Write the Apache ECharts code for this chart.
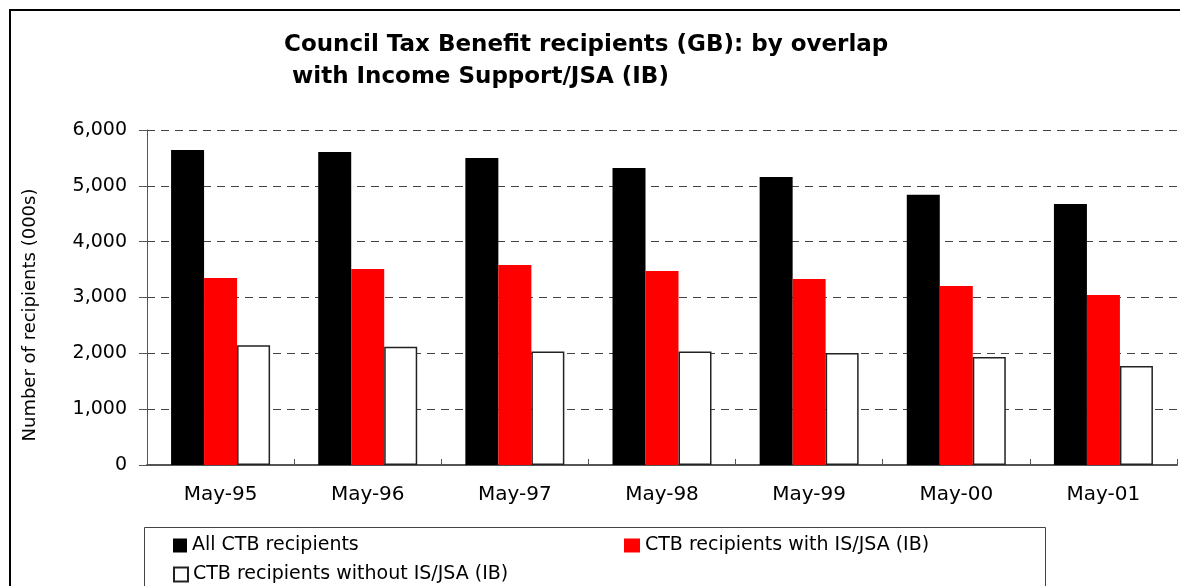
<!DOCTYPE html>
<html>
<head>
<meta charset="utf-8">
<title>Council Tax Benefit recipients</title>
<script src="https://cdn.jsdelivr.net/npm/echarts@6/dist/echarts.min.js"></script>
<style>
  html, body { margin: 0; padding: 0; background: #fff; }
  #chart { width: 1180px; height: 586px; }
</style>
</head>
<body>
<div id="chart"></div>
<script>
  // data (thousands)
  var categories = ['May-95', 'May-96', 'May-97', 'May-98', 'May-99', 'May-00', 'May-01']
  var allCtb = [5640, 5605, 5500, 5320, 5160, 4840, 4675]
  var withIs = [3350, 3510, 3580, 3475, 3330, 3205, 3045]
  var withoutIs = [2145, 2120, 2035, 2035, 2005, 1935, 1775]
  var seriesNames = ['All CTB recipients', 'CTB recipients with IS/JSA (IB)', 'CTB recipients without IS/JSA (IB)']

  var font = 'DejaVu Sans'
  var legendText = { fontFamily: font, fontSize: 19, color: '#000' }
  var chart = echarts.init(document.getElementById('chart'))

  chart.setOption({
    animation: false,
    backgroundColor: '#fff',
    title: {
      text: 'Council Tax Benefit recipients (GB): by overlap\n with Income Support/JSA (IB)',
      left: 284,
      top: 29,
      padding: 0,
      textStyle: {
        fontFamily: font,
        fontSize: 23,
        fontWeight: 'bold',
        color: '#000',
        lineHeight: 32
      }
    },
    legend: [{
      data: [seriesNames[0]],
      left: 173, top: 536, padding: 0,
      icon: 'rect', itemWidth: 14, itemHeight: 14, itemGap: 6,
      textStyle: legendText
    }, {
      data: [seriesNames[1]],
      left: 624, top: 536, padding: 0,
      icon: 'rect', itemWidth: 16, itemHeight: 14, itemGap: 6,
      textStyle: legendText
    }, {
      data: [seriesNames[2]],
      left: 173, top: 565, padding: 0,
      icon: 'rect', itemWidth: 14, itemHeight: 14, itemGap: 6,
      textStyle: legendText
    }],
    grid: {
      left: 147,
      right: 3,
      top: 130,
      bottom: 121
    },
    xAxis: {
      type: 'category',
      data: categories,
      axisLine: { lineStyle: { color: '#555', width: 2 } },
      axisTick: { show: true, inside: true, length: 6, lineStyle: { color: '#555' } },
      axisLabel: { fontFamily: font, fontSize: 20, color: '#000', margin: 20 }
    },
    yAxis: {
      type: 'value',
      min: 0,
      max: 6000,
      interval: 1000,
      axisLine: { show: true, lineStyle: { color: '#555', width: 1 } },
      axisTick: { show: true, length: 8, lineStyle: { color: '#555' } },
      axisLabel: {
        fontFamily: font, fontSize: 19, color: '#000', margin: 20,
        formatter: function (v) { return v.toLocaleString('en-GB') }
      },
      splitLine: { lineStyle: { color: '#444', type: [8, 6], width: 1 } }
    },
    graphic: [{
      type: 'rect',
      silent: true,
      shape: { x: 10, y: 10, width: 1200, height: 600 },
      style: { fill: 'none', stroke: '#000', lineWidth: 2 }
    }, {
      type: 'rect',
      silent: true,
      shape: { x: 144.5, y: 527.5, width: 901, height: 80 },
      style: { fill: 'none', stroke: '#444', lineWidth: 1 }
    }, {
      type: 'text',
      silent: true,
      x: 30,
      y: 315,
      rotation: Math.PI / 2,
      style: {
        text: 'Number of recipients (000s)',
        font: '18px "DejaVu Sans"',
        fill: '#000',
        textAlign: 'center',
        textVerticalAlign: 'middle'
      }
    }],
    series: [{
      name: seriesNames[0],
      type: 'bar',
      data: allCtb,
      barWidth: 33,
      barGap: '0%',
      itemStyle: { color: '#000' }
    }, {
      name: seriesNames[1],
      type: 'bar',
      data: withIs,
      barWidth: 33,
      barGap: '0%',
      itemStyle: { color: '#ff0000' }
    }, {
      name: seriesNames[2],
      type: 'bar',
      data: withoutIs,
      barWidth: 33,
      barGap: '0%',
      itemStyle: { color: '#fff', borderColor: '#222', borderWidth: 1.5 }
    }]
  })
</script>
</body>
</html>
